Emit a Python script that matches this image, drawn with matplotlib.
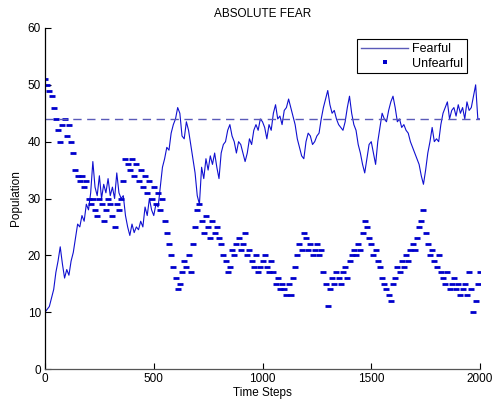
import numpy as np
import matplotlib
matplotlib.use('Agg')
import matplotlib.pyplot as plt
from matplotlib.lines import Line2D

plt.rcParams['font.family'] = ['Liberation Sans', 'DejaVu Sans']

STEP = 10
TIME_STEPS = np.arange(0, 2001, STEP)
FEAR_LEVEL = 44

# Fearful population, read every 10 time steps
fearful = [
    10, 10.5, 11, 12.5, 14, 17, 19, 21.5, 18.5, 16,
    17.5, 16.5, 19, 20.5, 23, 25.5, 25, 27, 26, 29,
    28, 31, 36.5, 32, 30.5, 34, 30, 32.5, 31, 33.5,
    30.5, 32, 30, 34.5, 31, 30, 30.5, 27, 25, 23.5,
    25.5, 24, 25, 24.5, 26, 25, 28.5, 27, 30, 28,
    27, 29, 28.5, 32, 35.5, 37, 39, 38.5, 41.5, 43,
    44, 46, 45, 41, 40.5, 43.5, 42, 39.5, 37, 34.5,
    30.5, 29, 35.5, 33.5, 37, 35, 37.5, 36, 38, 35.5,
    33.5, 38, 39.5, 40, 42, 43, 41, 40, 38, 40,
    39.5, 38, 36.5, 38, 40.5, 39.5, 42, 43, 42, 44,
    43.5, 42.5, 40.5, 43, 42, 45, 46.5, 44, 44.5, 43,
    45.5, 46, 47.5, 46, 44.5, 43, 40.5, 39, 37.5, 37,
    40, 41.5, 41, 39.5, 40, 41, 41.5, 44, 46, 47.5,
    49, 46.5, 45, 45.5, 44, 43, 42.5, 42, 43.5, 46,
    48, 45, 43, 42, 39.5, 38, 36, 34.5, 37, 39.5,
    40, 38, 36, 40, 42.5, 45, 44, 43.5, 45.5, 47,
    48, 46, 43.5, 44, 42.5, 43, 42, 41.5, 40, 39,
    38, 37, 36, 34, 32.5, 35, 38, 40, 42.5, 40,
    40.5, 40, 43, 45, 46, 47, 44, 45.5, 46, 44.5,
    46.5, 45, 46, 44, 47, 45.5, 46, 48, 50, 44,
    44,
]

# Unfearful population, read every 10 time steps
unfearful = [
    51, 50, 49, 48, 46, 44, 42, 40, 43, 44,
    41, 43, 40, 38, 35, 34, 33, 34, 32, 33,
    30, 29, 30, 28, 27, 30, 29, 26, 28, 30,
    29, 27, 25, 29, 28, 30, 33, 37, 36, 35,
    37, 34, 36, 33, 35, 32, 34, 31, 33, 30,
    32, 29, 31, 28, 30, 26, 24, 22, 20, 18,
    16, 14, 15, 17, 19, 18, 20, 17, 22, 25,
    28, 29, 26, 24, 27, 25, 23, 26, 24, 25,
    23, 22, 20, 19, 17, 18, 21, 20, 22, 23,
    21, 22, 24, 20, 21, 19, 18, 20, 17, 18,
    19, 20, 18, 17, 19, 17, 15, 16, 14, 15,
    14, 13, 15, 13, 16, 18, 20, 22, 21, 24,
    23, 21, 22, 20, 21, 22, 20, 21, 17, 15,
    11, 14, 16, 15, 17, 16, 15, 17, 18, 16,
    19, 20, 21, 20, 22, 21, 24, 26, 25, 23,
    22, 20, 21, 19, 18, 16, 15, 14, 13, 12,
    15, 16, 18, 17, 19, 18, 20, 19, 21, 22,
    21, 23, 25, 26, 28, 24, 22, 20, 21, 19,
    18, 20, 17, 16, 15, 17, 14, 15, 16, 14,
    15, 13, 14, 15, 13, 17, 14, 10, 12, 15,
    17,
]

assert len(fearful) == len(TIME_STEPS) and len(unfearful) == len(TIME_STEPS)

fig = plt.figure(figsize=(4.96, 4.05), dpi=100)
ax = fig.add_axes([45/496, 36/405, 435/496, 341/405])

ax.plot(TIME_STEPS, fearful, color='#1010d0', lw=0.8)
# each time step drawn as a short flat dash, like the original dotted runs
ax.plot(TIME_STEPS, unfearful, ls='none', marker='_', ms=4.2, mew=2.0,
        color='#0000cc')
ax.plot([TIME_STEPS[0], TIME_STEPS[-1]], [FEAR_LEVEL, FEAR_LEVEL],
        ls=(0, (6, 4)), color='#5a5ab8', lw=1.0)

ax.set_xlim(0, 2000)
ax.set_ylim(0, 60)
ax.set_xticks([0, 500, 1000, 1500, 2000])
ax.set_yticks(range(0, 61, 10))
ax.tick_params(direction='in', length=4, width=0.8, labelsize=8.5, pad=3)
ax.spines['top'].set_visible(False)
ax.spines['right'].set_visible(False)
ax.spines['left'].set_linewidth(0.9)
ax.spines['bottom'].set_linewidth(0.9)
ax.spines['bottom'].set_color('#555555')

ax.set_title('ABSOLUTE FEAR', fontsize=8.5, pad=8)
ax.set_xlabel('Time Steps', fontsize=8.5, labelpad=1)
ax.set_ylabel('Population', fontsize=8.5, labelpad=4)

handles = [
    Line2D([], [], color='#5a5ab8', lw=1.0),
    Line2D([], [], ls='none', marker='s', ms=2.2, mew=0, color='#0000cc'),
]
leg = ax.legend(handles, ['Fearful', 'Unfearful'], loc='upper right',
                bbox_to_anchor=(0.984, 0.985), fontsize=9,
                fancybox=False, framealpha=1, edgecolor='black',
                handlelength=3.8, borderpad=0.3, labelspacing=0.2,
                handletextpad=0.3)
leg.get_frame().set_linewidth(0.8)

fig.savefig('out.png', dpi=100)
